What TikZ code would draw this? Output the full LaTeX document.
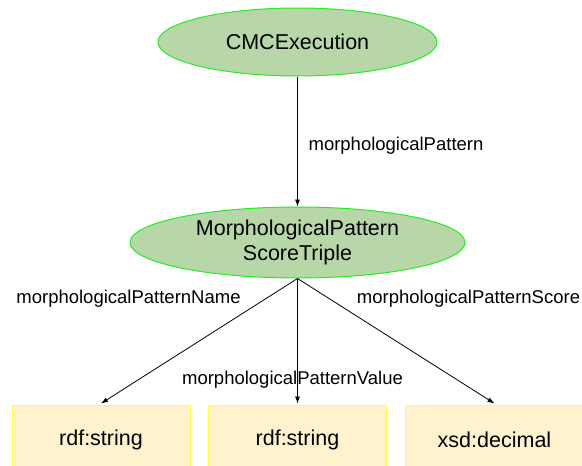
\documentclass[tikz,border=0pt]{standalone}
\usepackage{fontspec}
\setmainfont{Liberation Sans}
\usetikzlibrary{shapes.geometric,arrows.meta}
\definecolor{elfill}{HTML}{B7D7A8}
\definecolor{elborder}{HTML}{22EE22}
\definecolor{boxfill}{HTML}{FFF2CC}
\definecolor{boxborder}{HTML}{FFFF33}
\tikzset{
  classnode/.style={ellipse, draw=elborder, fill=elfill, line width=1pt, inner sep=0pt,
    font=\fontsize{21.5}{25}\selectfont, align=center},
  litnode/.style={rectangle, draw=boxborder, fill=boxfill, line width=1pt,
    minimum width=178pt, minimum height=70pt, inner sep=0pt,
    font=\fontsize{21.5}{25}\selectfont},
  edgelbl/.style={font=\fontsize{18.5}{22}\selectfont, inner sep=0pt},
  conn/.style={draw=black, line width=0.8pt, -{Latex[length=7pt,width=5pt]}}
}
\begin{document}
\begin{tikzpicture}[x=1pt,y=-1pt]
\useasboundingbox (0,0) rectangle (582,466);
\node[classnode, minimum width=279pt, minimum height=68pt] (cmc) at (297.5,42) {CMCExecution};
\node[classnode, minimum width=335pt, minimum height=71pt] (mps) at (297.5,242.5) {MorphologicalPattern\\[-0.5pt]ScoreTriple};
\node[litnode] (b1) at (101,440) {rdf:string};
\node[litnode] (b2) at (297.5,440) {rdf:string};
\node[litnode] (b3) at (494.5,440) {xsd:decimal};
\draw[conn] (cmc.south) -- (mps.north);
\draw[conn] (mps.south) -- ([yshift=1pt]b1.north);
\draw[conn] (mps.south) -- ([yshift=1pt]b2.north);
\draw[conn] (mps.south) -- ([yshift=1pt]b3.north);
\node[edgelbl] (l0) at (396,145.5) {morphologicalPattern};
\node[edgelbl] (l1) at (128.5,298.5) {morphologicalPatternName};
\node[edgelbl] (l2) at (292.5,379.5) {morphologicalPatternValue};
\node[edgelbl] (l3) at (468.5,298.5) {morphologicalPatternScore};
\end{tikzpicture}
\end{document}
